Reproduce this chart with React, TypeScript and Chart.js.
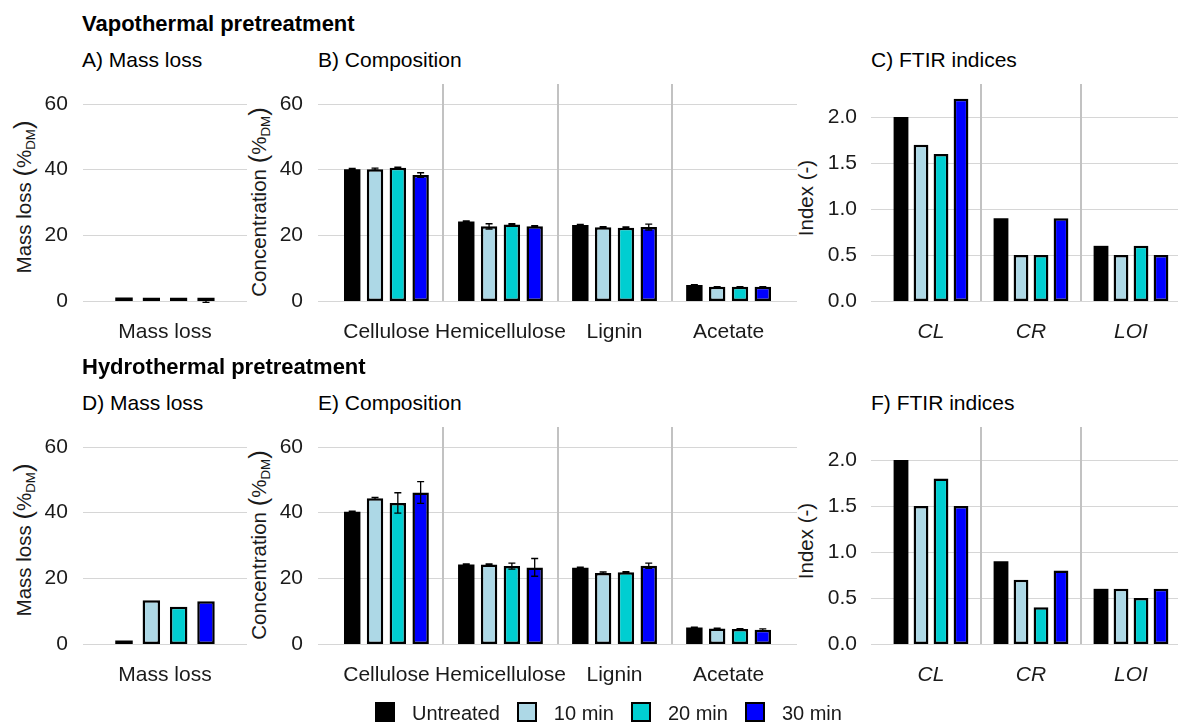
import React, { useEffect, useRef } from 'react';
import { Chart, registerables } from 'chart.js';

Chart.register(...registerables);

const FONT = "'Liberation Sans', Arial, Helvetica, sans-serif";
const TEXT = '#1a1a1a';

// ---------- data ----------
const treatments = ['Untreated', '10 min', '20 min', '30 min'];
const treatmentColors = ['#000000', '#ADD8E6', '#00CED1', '#0000FF'];

const massCategories = ['Mass loss'];
const compCategories = ['Cellulose', 'Hemicellulose', 'Lignin', 'Acetate'];
const ftirCategories = ['CL', 'CR', 'LOI'];

// Vapothermal: mass loss (one value per treatment)
const vapoMassLoss = [0, 0, 0, 0];
const vapoMassLossErr = [0, 0, 0, 0.4];

// Vapothermal: composition (per treatment, across Cellulose/Hemicellulose/Lignin/Acetate)
const vapoCompUntreated = [40.1, 24.2, 23.1, 4.9];
const vapoComp10 = [40.1, 22.7, 22.4, 4.3];
const vapoComp20 = [40.5, 23.3, 22.3, 4.3];
const vapoComp30 = [38.3, 22.7, 22.5, 4.3];
const vapoCompErrUntreated = [0.2, 0.2, 0.2, 0.1];
const vapoCompErr10 = [0.3, 0.8, 0.2, 0.1];
const vapoCompErr20 = [0.2, 0.2, 0.2, 0.1];
const vapoCompErr30 = [0.7, 0.2, 0.9, 0.1];

// Vapothermal: FTIR indices (CL, CR, LOI)
const vapoFtirUntreated = [2.0, 0.9, 0.6];
const vapoFtir10 = [1.7, 0.5, 0.5];
const vapoFtir20 = [1.6, 0.5, 0.6];
const vapoFtir30 = [2.2, 0.9, 0.5];

// Hydrothermal: mass loss
const hydroMassLoss = [0, 13.3, 11.3, 13.0];
const hydroMassLossErr = [0, 0, 0, 0];

// Hydrothermal: composition
const hydroCompUntreated = [40.2, 24.2, 23.2, 5.0];
const hydroComp10 = [44.3, 24.2, 21.6, 4.7];
const hydroComp20 = [42.9, 23.7, 21.8, 4.6];
const hydroComp30 = [46.1, 23.3, 23.8, 4.3];
const hydroCompErrUntreated = [0.2, 0.2, 0.2, 0.1];
const hydroCompErr10 = [0.3, 0.2, 0.3, 0.1];
const hydroCompErr20 = [3.1, 0.9, 0.2, 0.1];
const hydroCompErr30 = [3.3, 2.7, 0.8, 0.3];

// Hydrothermal: FTIR indices
const hydroFtirUntreated = [2.0, 0.9, 0.6];
const hydroFtir10 = [1.5, 0.7, 0.6];
const hydroFtir20 = [1.8, 0.4, 0.5];
const hydroFtir30 = [1.5, 0.8, 0.6];

// axis settings
const percentMax = 66;
const percentStep = 20;
const indexMax = 2.36;
const indexStep = 0.5;

// ---------- plugin: ggplot-like grid, separators, error bars ----------
const ggPlugin = {
  id: 'ggExtras',
  beforeDatasetsDraw(chart: any) {
    const { ctx, chartArea: a, scales } = chart;
    const x = scales.x;
    const y = scales.y;
    const n = chart.data.labels.length;
    const cw = (a.right - a.left) / n;
    const ext = 0.1 * cw;
    ctx.save();
    ctx.strokeStyle = '#d6d6d6';
    ctx.lineWidth = 1;
    y.ticks.forEach((t: any) => {
      const py = Math.round(y.getPixelForValue(t.value)) + 0.5;
      ctx.beginPath();
      ctx.moveTo(a.left - ext, py);
      ctx.lineTo(a.right + ext, py);
      ctx.stroke();
    });
    ctx.strokeStyle = '#c2c2c2';
    ctx.lineWidth = 2;
    for (let i = 0; i < n - 1; i++) {
      const px = Math.round((x.getPixelForValue(i) + x.getPixelForValue(i + 1)) / 2);
      ctx.beginPath();
      ctx.moveTo(px, a.top);
      ctx.lineTo(px, a.bottom);
      ctx.stroke();
    }
    ctx.restore();
  },
  afterDatasetsDraw(chart: any) {
    const { ctx, scales } = chart;
    const y = scales.y;
    ctx.save();
    ctx.strokeStyle = '#000000';
    ctx.lineWidth = 1.3;
    chart.data.datasets.forEach((ds: any, i: number) => {
      const errs = ds.errors;
      if (!errs) return;
      const meta = chart.getDatasetMeta(i);
      meta.data.forEach((el: any, j: number) => {
        const e = errs[j];
        if (!e) return;
        const v = ds.data[j];
        const top = y.getPixelForValue(v + e);
        const bot = y.getPixelForValue(v - e);
        const hw = 3.5;
        ctx.beginPath();
        ctx.moveTo(el.x, top);
        ctx.lineTo(el.x, bot);
        ctx.moveTo(el.x - hw, top);
        ctx.lineTo(el.x + hw, top);
        ctx.moveTo(el.x - hw, bot);
        ctx.lineTo(el.x + hw, bot);
        ctx.stroke();
      });
    });
    ctx.restore();
  },
};

type Box = { left: number; top: number; width: number; height: number };
type Area = { l: number; r: number; t: number; b: number };

type PanelProps = {
  box: Box;
  area: Area;
  labels: string[];
  series: number[][];
  errors?: number[][];
  yMax: number;
  yStep: number;
  decimals: number;
  yPad: number;
  italic?: boolean;
  barPct: number;
  minBar?: number;
};

function BarPanel(p: PanelProps) {
  const ref = useRef<HTMLCanvasElement>(null);
  useEffect(() => {
    const { box, area } = p;
    const yW = area.l - box.left;
    const xH = box.top + box.height - area.b;
    const chart = new Chart(ref.current as HTMLCanvasElement, {
      type: 'bar',
      data: {
        labels: p.labels,
        datasets: p.series.map((d, i) => ({
          label: treatments[i],
          data: d,
          errors: p.errors ? p.errors[i] : undefined,
          backgroundColor: treatmentColors[i],
          borderColor: '#000000',
          borderWidth: i === 0 ? 0 : 2.5,
          borderSkipped: false,
          categoryPercentage: 0.8,
          barPercentage: p.barPct,
          minBarLength: p.minBar || 0,
        })) as any,
      },
      options: {
        animation: false,
        responsive: true,
        maintainAspectRatio: false,
        layout: {
          padding: { left: 0, top: area.t - box.top, right: box.left + box.width - area.r, bottom: 0 },
        },
        plugins: { legend: { display: false }, tooltip: { enabled: false } },
        scales: {
          x: {
            type: 'category',
            offset: true,
            grid: { display: false, drawTicks: false },
            border: { display: false },
            ticks: {
              color: TEXT,
              font: { family: FONT, size: 21, style: p.italic ? 'italic' : 'normal' },
              padding: 19,
              maxRotation: 0,
              autoSkip: false,
            },
            afterFit: (s: any) => {
              s.height = xH;
            },
          },
          y: {
            min: 0,
            max: p.yMax,
            grid: { display: false, drawTicks: false },
            border: { display: false },
            ticks: {
              stepSize: p.yStep,
              includeBounds: false,
              color: TEXT,
              font: { family: FONT, size: 21 },
              padding: p.yPad,
              callback: (v: any) => Number(v).toFixed(p.decimals),
            },
            afterFit: (s: any) => {
              s.width = yW;
            },
          },
        },
      } as any,
      plugins: [ggPlugin as any],
    });
    return () => chart.destroy();
  }, []);
  const { box } = p;
  return (
    <div style={{ position: 'absolute', left: box.left, top: box.top, width: box.width, height: box.height }}>
      <canvas ref={ref} />
    </div>
  );
}

function Text({ x, y, size, bold, children }: any) {
  return (
    <div
      style={{
        position: 'absolute',
        left: x,
        top: y,
        fontFamily: FONT,
        fontSize: size,
        fontWeight: bold ? 700 : 400,
        lineHeight: 1,
        whiteSpace: 'nowrap',
        color: '#000',
      }}
    >
      {children}
    </div>
  );
}

function YTitle({ cx, cy, main, unit }: { cx: number; cy: number; main: string; unit?: string }) {
  return (
    <div
      style={{
        position: 'absolute',
        left: cx,
        top: cy,
        transform: 'translate(-50%, -50%) rotate(-90deg)',
        fontFamily: FONT,
        fontSize: 20.5,
        lineHeight: 1,
        whiteSpace: 'nowrap',
        color: TEXT,
      }}
    >
      {main}{' '}
      <span style={{ fontSize: '1.25em', verticalAlign: '-0.05em' }}>(</span>
      {unit ? (
        <>
          %<span style={{ fontSize: '0.65em', position: 'relative', top: '0.35em' }}>{unit}</span>
        </>
      ) : (
        '-'
      )}
      <span style={{ fontSize: '1.25em', verticalAlign: '-0.05em' }}>)</span>
    </div>
  );
}

function IndexTitle({ cx, cy }: { cx: number; cy: number }) {
  return (
    <div
      style={{
        position: 'absolute',
        left: cx,
        top: cy,
        transform: 'translate(-50%, -50%) rotate(-90deg)',
        fontFamily: FONT,
        fontSize: 20.5,
        lineHeight: 1,
        whiteSpace: 'nowrap',
        color: TEXT,
      }}
    >
      Index (-)
    </div>
  );
}

function Legend() {
  return (
    <div
      style={{
        position: 'absolute',
        left: 375,
        top: 702,
        height: 20,
        display: 'flex',
        alignItems: 'center',
        fontFamily: FONT,
        fontSize: 20,
        color: TEXT,
        whiteSpace: 'nowrap',
      }}
    >
      {treatments.map((t, i) => (
        <div key={t} style={{ display: 'flex', alignItems: 'center', marginRight: 17 }}>
          <div
            style={{
              width: 20,
              height: 20,
              boxSizing: 'border-box',
              background: treatmentColors[i],
              border: '2px solid #000',
              marginRight: 17,
            }}
          />
          <span style={{ lineHeight: '20px', position: 'relative', top: 1 }}>{t}</span>
        </div>
      ))}
    </div>
  );
}

const ROW2 = 343;

export default function App() {
  const rows = [
    {
      dy: 0,
      heading: 'Vapothermal pretreatment',
      titles: ['A) Mass loss', 'B) Composition', 'C) FTIR indices'],
      mass: vapoMassLoss,
      massErr: vapoMassLossErr,
      comp: [vapoCompUntreated, vapoComp10, vapoComp20, vapoComp30],
      compErr: [vapoCompErrUntreated, vapoCompErr10, vapoCompErr20, vapoCompErr30],
      ftir: [vapoFtirUntreated, vapoFtir10, vapoFtir20, vapoFtir30],
    },
    {
      dy: ROW2,
      heading: 'Hydrothermal pretreatment',
      titles: ['D) Mass loss', 'E) Composition', 'F) FTIR indices'],
      mass: hydroMassLoss,
      massErr: hydroMassLossErr,
      comp: [hydroCompUntreated, hydroComp10, hydroComp20, hydroComp30],
      compErr: [hydroCompErrUntreated, hydroCompErr10, hydroCompErr20, hydroCompErr30],
      ftir: [hydroFtirUntreated, hydroFtir10, hydroFtir20, hydroFtir30],
    },
  ];

  return (
    <div
      style={{
        position: 'absolute',
        left: 0,
        top: 0,
        width: 1178,
        height: 722,
        overflow: 'hidden',
        background: '#ffffff',
      }}
    >
      {rows.map((r, k) => {
        const t = 84 + r.dy;
        const b = 301 + r.dy;
        // mass loss: each treatment is its own dataset with a single category
        const massSeries = r.mass.map((v) => [v]);
        const massErrSeries = r.massErr.map((v) => [v]);
        return (
          <React.Fragment key={k}>
            <Text x={82} y={13.4 + r.dy} size={22} bold>
              {r.heading}
            </Text>
            <Text x={82} y={48.5 + r.dy} size={21}>
              {r.titles[0]}
            </Text>
            <Text x={318} y={48.5 + r.dy} size={21}>
              {r.titles[1]}
            </Text>
            <Text x={871} y={48.5 + r.dy} size={21}>
              {r.titles[2]}
            </Text>

            <YTitle cx={24} cy={197 + r.dy} main="Mass loss" unit="DM" />
            <YTitle cx={259} cy={201.5 + r.dy} main="Concentration" unit="DM" />
            <IndexTitle cx={806} cy={197.5 + r.dy} />

            <BarPanel
              box={{ left: 30, top: t - 44, width: 230, height: 320 }}
              area={{ l: 96.67, r: 233.33, t, b }}
              labels={massCategories}
              series={massSeries}
              errors={massErrSeries}
              yMax={percentMax}
              yStep={percentStep}
              decimals={0}
              yPad={28.7}
              barPct={0.64}
              minBar={3.5}
            />
            <BarPanel
              box={{ left: 270, top: t - 44, width: 540, height: 320 }}
              area={{ l: 329.4, r: 785.6, t, b }}
              labels={compCategories}
              series={r.comp}
              errors={r.compErr}
              yMax={percentMax}
              yStep={percentStep}
              decimals={0}
              yPad={26.4}
              barPct={0.72}
            />
            <BarPanel
              box={{ left: 815, top: t - 44, width: 380, height: 320 }}
              area={{ l: 881, r: 1181, t, b }}
              labels={ftirCategories}
              series={r.ftir}
              yMax={indexMax}
              yStep={indexStep}
              decimals={1}
              yPad={24}
              italic
              barPct={0.74}
            />
          </React.Fragment>
        );
      })}
      <Legend />
    </div>
  );
}
